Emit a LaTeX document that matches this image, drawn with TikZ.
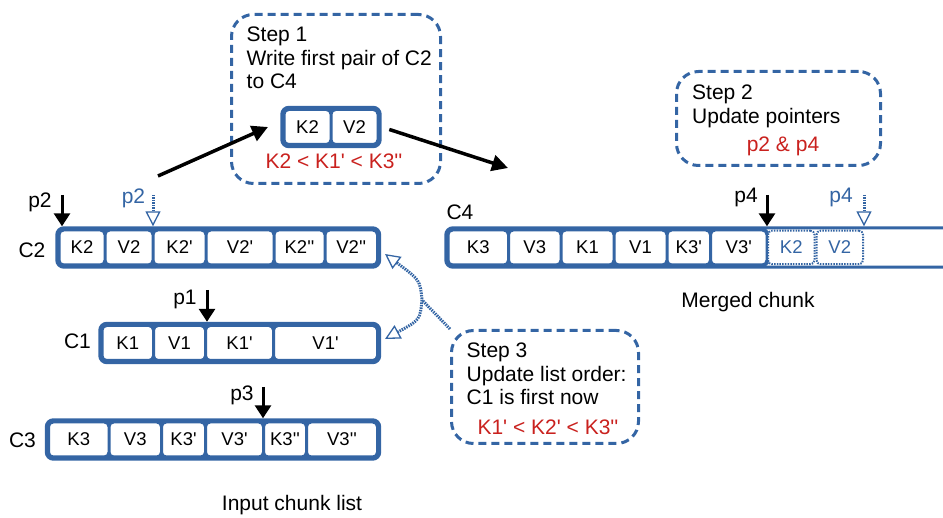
\documentclass[tikz,border=0pt]{standalone}
\usepackage{fontspec}
\setmainfont{Liberation Sans}
\usetikzlibrary{arrows.meta,fit,backgrounds}

\definecolor{chunkblue}{HTML}{3465A4}
\definecolor{stepred}{HTML}{C9211E}

\newcommand\cellh{33.5}
\newcommand\rowtop{247.5}
\newcommand\rowmid{343}
\newcommand\rowlow{439.5}
\newcommand\rowstep{127}
\newcommand\ptrtop{195}
\newcommand\pmark{\textquotesingle}

\tikzset{
    cell/.style={draw=chunkblue, line width=1.5pt, rounded corners=4pt, fill=white,
        minimum height=\cellh, inner sep=0pt, font=\fontsize{18.5}{22}\selectfont},
    newcell/.style={cell, line width=2pt, dash pattern=on 1.5pt off 1.2pt, text=chunkblue},
    chunk/.style={draw=chunkblue, line width=3pt, rounded corners=7pt, inner sep=2.2pt},
    chunkfill/.style={chunk, fill=chunkblue},
    lbl/.style={inner sep=0pt, font=\fontsize{21}{23.4}\selectfont},
    stepbox/.style={draw=chunkblue, line width=3pt, dash pattern=on 8pt off 5pt, rounded corners=22pt},
    steptext/.style={lbl, anchor=north west, align=left},
    openhead/.tip={Triangle[open, fill=white, length=15pt, width=15pt, line width=1.3pt]},
    ptr/.style={line width=3pt, -{Triangle[length=13pt, width=16pt]}},
    newptr/.style={chunkblue, line width=3pt, dash pattern=on 1.5pt off 1pt, -openhead},
    link/.style={chunkblue, line width=3pt, dash pattern=on 1.5pt off 1pt},
    move/.style={line width=3.5pt, -{Triangle[length=16pt, width=16pt]}}
}

\begin{document}
\begin{tikzpicture}[x=1pt, y=-1pt]
    \useasboundingbox (0,0) rectangle (943,518);
    \clip (0,0) rectangle (943,518);

    \node[stepbox, minimum width=209, minimum height=169] (step1) at (336,99) {};
    \node[steptext] (step1txt) at (246.5,27) {Step 1\\Write first pair of C2\\to C4};
    \node[cell, minimum width=45.5] (s1k2) at (307.5,\rowstep) {K2};
    \node[cell, minimum width=45.5] (s1v2) at (354.5,\rowstep) {V2};
    \begin{scope}[on background layer]
        \node[chunkfill, fit=(s1k2)(s1v2)] (mini) {};
    \end{scope}
    \node[lbl, text=stepred] (s1order) at (334,161.5) {K2 < K1\pmark{} < K3\pmark\pmark};

    \node[stepbox, minimum width=204, minimum height=94] (step2) at (778.5,118.5) {};
    \node[steptext] (step2txt) at (692,85) {Step 2\\Update pointers};
    \node[lbl, text=stepred] (s2ptrs) at (783,146) {p2 \& p4};

    \node[stepbox, minimum width=187, minimum height=113] (step3) at (545,387) {};
    \node[steptext] (step3txt) at (466.5,343) {Step 3\\Update list order:\\C1 is first now};
    \node[lbl, text=stepred] (s3order) at (548,427.5) {K1\pmark{} < K2\pmark{} < K3\pmark\pmark};

    \node[cell, minimum width=44.5] (c2k2) at (82,\rowtop) {K2};
    \node[cell, minimum width=46.5] (c2v2) at (129,\rowtop) {V2};
    \node[cell, minimum width=51.5] (c2k2p) at (179.5,\rowtop) {K2\pmark};
    \node[cell, minimum width=66.5] (c2v2p) at (240,\rowtop) {V2\pmark};
    \node[cell, minimum width=49.5] (c2k2pp) at (299.5,\rowtop) {K2\pmark\pmark};
    \node[cell, minimum width=51] (c2v2pp) at (351.25,\rowtop) {V2\pmark\pmark};
    \node[lbl] (c2lbl) at (32,250) {C2};

    \node[cell, minimum width=50] (c1k1) at (127.75,\rowmid) {K1};
    \node[cell, minimum width=50.5] (c1v1) at (179.5,\rowmid) {V1};
    \node[cell, minimum width=66.5] (c1k1p) at (239.5,\rowmid) {K1\pmark};
    \node[cell, minimum width=102.5] (c1v1p) at (325.5,\rowmid) {V1\pmark};
    \node[lbl] (c1lbl) at (77.5,341) {C1};

    \node[cell, minimum width=59] (c3k3) at (78.75,\rowlow) {K3};
    \node[cell, minimum width=51] (c3v3) at (135.25,\rowlow) {V3};
    \node[cell, minimum width=42.5] (c3k3p) at (183.5,\rowlow) {K3\pmark};
    \node[cell, minimum width=56.5] (c3v3p) at (234.5,\rowlow) {V3\pmark};
    \node[cell, minimum width=41.5] (c3k3pp) at (285,\rowlow) {K3\pmark\pmark};
    \node[cell, minimum width=69.5] (c3v3pp) at (342,\rowlow) {V3\pmark\pmark};
    \node[lbl] (c3lbl) at (22.5,440) {C3};

    \node[cell, minimum width=59] (c4k3) at (478.25,\rowtop) {K3};
    \node[cell, minimum width=51] (c4v3) at (534.75,\rowtop) {V3};
    \node[cell, minimum width=51.5] (c4k1) at (587.5,\rowtop) {K1};
    \node[cell, minimum width=51.5] (c4v1) at (640.5,\rowtop) {V1};
    \node[cell, minimum width=42] (c4k3p) at (688.75,\rowtop) {K3\pmark};
    \node[cell, minimum width=55] (c4v3p) at (738.75,\rowtop) {V3\pmark};
    \node[newcell, minimum width=46.5] (c4k2) at (791.25,\rowtop) {K2};
    \node[newcell, minimum width=46.5] (c4v2) at (839.75,\rowtop) {V2};
    \coordinate (c4end) at (980,\rowtop);
    \node[lbl] (c4lbl) at (460,212.5) {C4};

    \begin{scope}[on background layer]
        \node[chunkfill, fit=(c2k2)(c2v2pp)] (C2) {};
        \node[chunkfill, fit=(c1k1)(c1v1p)] (C1) {};
        \node[chunkfill, fit=(c3k3)(c3v3pp)] (C3) {};
        \node[chunkfill, draw=none, fit=(c4k3)(c4v3p)] (C4old) {};
    \end{scope}
    \node[chunk, fit=(c4k3)(c4end)] (C4) {};

    \node[lbl] (p2lbl) at (40,202) {p2};
    \coordinate (p2a) at (62,\ptrtop);
    \draw[ptr] (p2a) -- (p2a |- C2.north);
    \node[lbl, text=chunkblue] (p2new) at (133.5,198) {p2};
    \coordinate (p2b) at (153,\ptrtop);
    \draw[newptr] (p2b) -- (p2b |- C2.north);

    \node[lbl] (p1lbl) at (185,299) {p1};
    \coordinate (p1a) at (207,290);
    \draw[ptr] (p1a) -- (p1a |- C1.north);

    \node[lbl] (p3lbl) at (242,395) {p3};
    \coordinate (p3a) at (263,387);
    \draw[ptr] (p3a) -- (p3a |- C3.north);

    \node[lbl] (p4lbl) at (746,197) {p4};
    \coordinate (p4a) at (767,\ptrtop);
    \draw[ptr] (p4a) -- (p4a |- C4.north);
    \node[lbl, text=chunkblue] (p4new) at (841,197) {p4};
    \coordinate (p4b) at (864,\ptrtop);
    \draw[newptr] (p4b) -- (p4b |- C4.north);

    \coordinate (fromc2) at (158,176);
    \coordinate (tomini) at (268,127);
    \draw[move] (fromc2) -- (tomini);
    \coordinate (toc4) at (508,168);
    \draw[move, shorten <=8pt] (mini.east) -- (toc4);

    \coordinate (junc) at (422,300);
    \coordinate (c2hook) at (385,254);
    \coordinate (c1hook) at (385,339);
    \draw[link] (step3.north west) -- (junc);
    \draw[link, openhead-openhead] (c2hook) .. controls (420,280) .. (junc) .. controls (420,320) .. (c1hook);

    \node[lbl] (mergedlbl) at (748,302) {Merged chunk};
    \node[lbl] (inputlbl) at (292,505) {Input chunk list};
\end{tikzpicture}
\end{document}
